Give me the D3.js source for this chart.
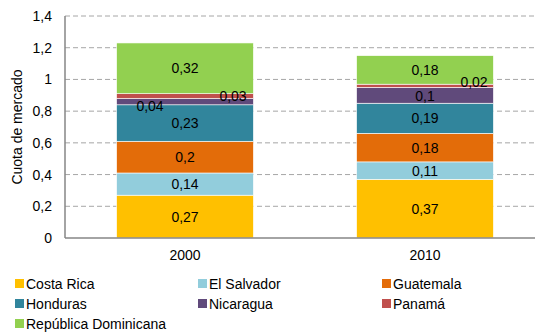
<!DOCTYPE html>
<html><head><meta charset="utf-8">
<script src="https://cdn.jsdelivr.net/npm/d3@7"></script>
<style>body{margin:0;background:#fff}svg{display:block;font-family:"Liberation Sans",Arial,sans-serif}</style>
</head><body><svg id="c" width="535" height="332"></svg>
<script>
const years = ["2000", "2010"];
const countries = ["Costa Rica", "El Salvador", "Guatemala", "Honduras", "Nicaragua", "Panamá", "República Dominicana"];
const share2000 = [0.27, 0.14, 0.2, 0.23, 0.04, 0.03, 0.32];
const share2010 = [0.37, 0.11, 0.18, 0.19, 0.1, 0.02, 0.18];
const colors = ["#FFC000", "#92CDDC", "#E36C09", "#31859C", "#604A7B", "#C0504D", "#92D050"];
const yTicks = [0, 0.2, 0.4, 0.6, 0.8, 1, 1.2, 1.4];

const svg = d3.select("#c");
const plotLeft = 65, plotTop = 16, plotBottom = 238;
const fs = 14;
const x = d3.scaleBand().domain(years).range([plotLeft, 545]).paddingInner(0.43).paddingOuter(0.215);
const y = d3.scaleLinear().domain([0, 1.4]).range([plotBottom, plotTop]);
const fmt = v => String(v).replace(".", ",");

// dashed gridlines
svg.append("g").selectAll("line").data(yTicks.filter(t => t > 0)).join("line")
  .attr("x1", plotLeft).attr("x2", 535).attr("y1", d => y(d)).attr("y2", d => y(d))
  .attr("stroke", "#a6a6a6").attr("stroke-dasharray", "5,3").attr("stroke-width", 1);

// stacked bars
const rows = years.map((yr, i) => {
  const vals = i === 0 ? share2000 : share2010;
  const o = {year: yr};
  countries.forEach((c, j) => o[c] = vals[j]);
  return o;
});
const series = d3.stack().keys(countries)(rows);
const g = svg.append("g");
series.forEach((s, k) => {
  g.selectAll(null).data(s).join("rect")
    .attr("x", d => x(d.data.year)).attr("width", x.bandwidth())
    .attr("y", d => y(d[1])).attr("height", d => y(d[0]) - y(d[1]))
    .attr("fill", colors[k]).attr("stroke", "#fff").attr("stroke-width", 0.6);
});

// value labels
const labelOffset = {"2000|Nicaragua": [-35, 4], "2000|Panamá": [48, 0], "2010|Panamá": [49, -4], "2010|Nicaragua": [0, 1]};
series.forEach((s, k) => {
  s.forEach(d => {
    const key = d.data.year + "|" + countries[k];
    const off = labelOffset[key] || [0, 0];
    svg.append("text")
      .attr("x", x(d.data.year) + x.bandwidth() / 2 + off[0])
      .attr("y", y((d[0] + d[1]) / 2) + off[1])
      .attr("dy", "0.36em").attr("text-anchor", "middle")
      .attr("font-size", fs).attr("fill", "#000")
      .text(fmt(d.data[countries[k]]));
  });
});

// axis lines
svg.append("line").attr("x1", plotLeft).attr("x2", plotLeft).attr("y1", plotTop).attr("y2", plotBottom).attr("stroke", "#868686").attr("stroke-width", 1.5);
svg.append("line").attr("x1", plotLeft).attr("x2", 535).attr("y1", plotBottom).attr("y2", plotBottom).attr("stroke", "#868686").attr("stroke-width", 1.5);

// y tick labels
svg.append("g").selectAll("text").data(yTicks).join("text")
  .attr("x", 52).attr("y", d => y(d)).attr("dy", "0.36em").attr("text-anchor", "end")
  .attr("font-size", fs).attr("fill", "#000").text(d => fmt(d));

// x labels
svg.append("g").selectAll("text").data(years).join("text")
  .attr("x", d => x(d) + x.bandwidth() / 2).attr("y", 260).attr("text-anchor", "middle")
  .attr("font-size", fs).attr("fill", "#000").text(d => d);

// y axis title
svg.append("text").attr("transform", "translate(22," + ((plotTop + plotBottom) / 2) + ") rotate(-90)")
  .attr("text-anchor", "middle").attr("font-size", fs).attr("fill", "#000").text("Cuota de mercado");

// legend
const colX = [15, 198, 382];
const leg = svg.append("g");
countries.forEach((c, i) => {
  const cx = colX[i % 3], cy = 284 + Math.floor(i / 3) * 20;
  leg.append("rect").attr("x", cx).attr("y", cy - 5).attr("width", 9).attr("height", 9).attr("fill", colors[i]);
  leg.append("text").attr("x", cx + 11).attr("y", cy).attr("dy", "0.36em").attr("font-size", fs).attr("fill", "#000").text(c);
});
</script></body></html>
